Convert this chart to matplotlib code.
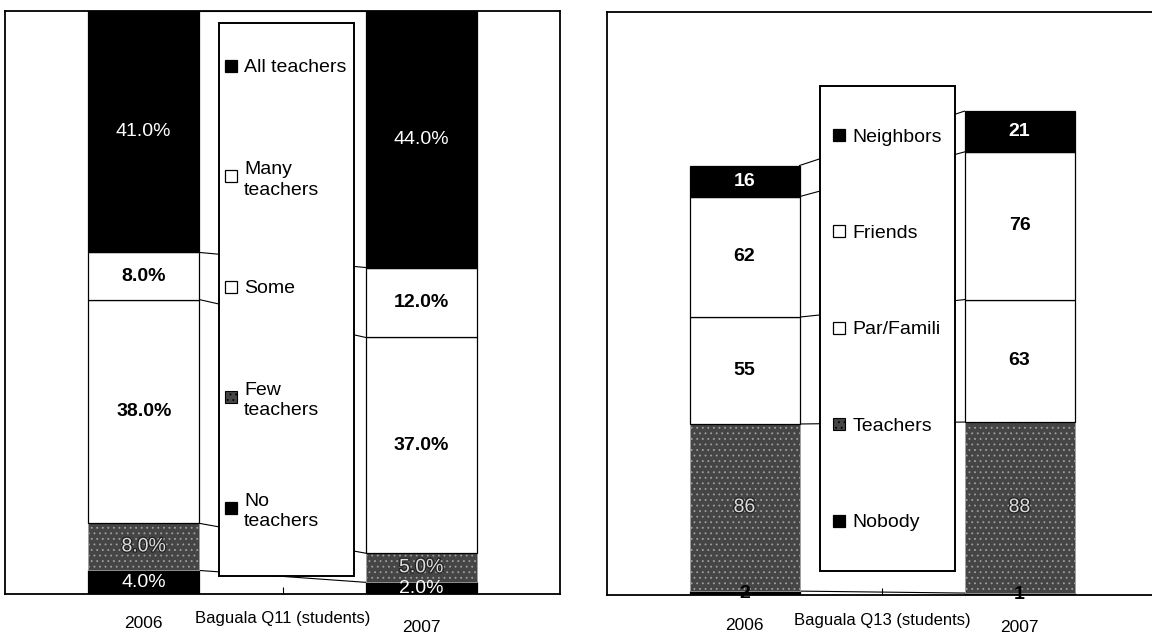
import matplotlib.pyplot as plt
import matplotlib.patheffects as pe
from matplotlib.patches import Rectangle
import numpy as np

plt.rcParams['font.family'] = ['Liberation Sans', 'DejaVu Sans']
plt.rcParams['hatch.linewidth'] = 0.6

# data
years = ['2006', '2007']

q11_title = 'Baguala Q11 (students)'
q11_series = ['No\nteachers', 'Few\nteachers', 'Some', 'Many\nteachers', 'All teachers']
q11_2006 = [4.0, 8.0, 38.0, 8.0, 41.0]
q11_2007 = [2.0, 5.0, 37.0, 12.0, 44.0]

q13_title = 'Baguala Q13 (students)'
q13_series = ['Nobody', 'Teachers', 'Par/Famili', 'Friends', 'Neighbors']
q13_2006 = [2, 86, 55, 62, 16]
q13_2007 = [1, 88, 63, 76, 21]

# styles (bottom series first)
fills = ['black', 'gray', 'white', 'white', 'black']
q11_text = ['light', 'outline', 'dark', 'dark', 'light']
q13_text = ['dark', 'outline', 'dark', 'dark', 'light']

W, H = 1152, 634
fig = plt.figure(figsize=(W / 100, H / 100), dpi=100)


def px_axes(left, top, width, height):
    return fig.add_axes([left / W, (H - top - height) / H, width / W, height / H])


def draw_bar(ax, x, bottom, h, fill):
    if fill == 'gray':
        ax.bar(x, h, 0.8, bottom=bottom, color='#454545', hatch='...',
               edgecolor='#a0a0a0', linewidth=0.6, zorder=2)
    else:
        ax.bar(x, h, 0.8, bottom=bottom, color=fill, edgecolor='black',
               linewidth=0.9, zorder=2)


def put_label(ax, x, y, s, kind, bold_light, clip):
    if kind == 'dark':
        ax.text(x, y, s, ha='center', va='center', fontsize=14, fontweight='bold',
                color='black', zorder=4, clip_on=clip)
    elif kind == 'light':
        ax.text(x, y, s, ha='center', va='center', fontsize=14,
                fontweight='bold' if bold_light else 'normal',
                color='white', zorder=4, clip_on=clip)
    else:
        ax.text(x, y, s, ha='center', va='center', fontsize=14, color='#dcdcdc',
                zorder=4, clip_on=clip,
                path_effects=[pe.withStroke(linewidth=1.8, foreground='#222222')])


def panel(ax, title, names, v06, v07, ymax, fmt, kinds, bold_light, clip, percent,
          box, entry_top, entry_step, mark_x, text_x, ax_w, ax_h):
    h06 = np.array(v06, dtype=float)
    h07 = np.array(v07, dtype=float)
    if percent:
        # 100% stacked: each column is scaled to the full height
        h06 = h06 / h06.sum() * 100
        h07 = h07 / h07.sum() * 100
    c06 = np.cumsum(h06)
    c07 = np.cumsum(h07)
    b06 = c06 - h06
    b07 = c07 - h07
    for i in range(len(names)):
        draw_bar(ax, 0, b06[i], h06[i], fills[i])
        draw_bar(ax, 2, b07[i], h07[i], fills[i])
        # series lines
        ax.plot([0.4, 1.6], [c06[i], c07[i]], color='black', lw=0.8, zorder=1)
        put_label(ax, 0, b06[i] + h06[i] / 2, fmt(v06[i]), kinds[i], bold_light, clip)
        put_label(ax, 2, b07[i] + h07[i] / 2, fmt(v07[i]), kinds[i], bold_light, clip)

    ax.set_xlim(-1, 3)
    ax.set_ylim(0, ymax)
    ax.set_yticks([])
    ax.set_xticks([1])
    ax.set_xticklabels([''])
    ax.tick_params(axis='x', direction='in', length=5, width=0.8)
    for sp in ax.spines.values():
        sp.set_linewidth(1.3)

    # legend box
    x0, y0, bw, bh = box
    ax.add_patch(Rectangle((x0, y0), bw, bh, transform=ax.transAxes, facecolor='white',
                           edgecolor='black', linewidth=1.4, zorder=5))
    ms_w, ms_h = 12 / ax_w, 12 / ax_h
    for k, i in enumerate(range(len(names) - 1, -1, -1)):
        y = entry_top - k * entry_step
        if fills[i] == 'gray':
            ax.add_patch(Rectangle((mark_x, y - ms_h / 2), ms_w, ms_h, transform=ax.transAxes,
                                   facecolor='#454545', hatch='...', edgecolor='black',
                                   linewidth=0.8, zorder=6))
        else:
            ax.add_patch(Rectangle((mark_x, y - ms_h / 2), ms_w, ms_h, transform=ax.transAxes,
                                   facecolor=fills[i], edgecolor='black', linewidth=0.9,
                                   zorder=6))
        ax.text(text_x, y, names[i], transform=ax.transAxes, ha='left',
                va='center_baseline', fontsize=14, linespacing=1.25, zorder=6)

    # category labels
    for xx, lab, dy in [(0, years[0], 30), (1, title, 25), (2, years[1], 33)]:
        ax.annotate(lab, xy=(xx, 0), xycoords=('data', 'axes fraction'),
                    xytext=(0, -dy), textcoords='offset pixels', ha='center', va='center',
                    fontsize=12.5 if lab != title else 12, annotation_clip=False)


ax1 = px_axes(5, 11, 555, 583)
panel(ax1, q11_title, q11_series, q11_2006, q11_2007, 100, lambda v: f'{v:.1f}%',
      q11_text, False, True, True,
      box=(0.386, 0.031, 0.243, 0.948), entry_top=0.906, entry_step=0.1895,
      mark_x=0.397, text_x=0.431, ax_w=555, ax_h=583)

ax2 = px_axes(607, 12, 550, 583)
panel(ax2, q13_title, q13_series, q13_2006, q13_2007, 300, lambda v: f'{v:d}',
      q13_text, True, False, False,
      box=(0.387, 0.041, 0.245, 0.832), entry_top=0.789, entry_step=0.1655,
      mark_x=0.411, text_x=0.447, ax_w=550, ax_h=583)

fig.savefig('out.png', dpi=100)
